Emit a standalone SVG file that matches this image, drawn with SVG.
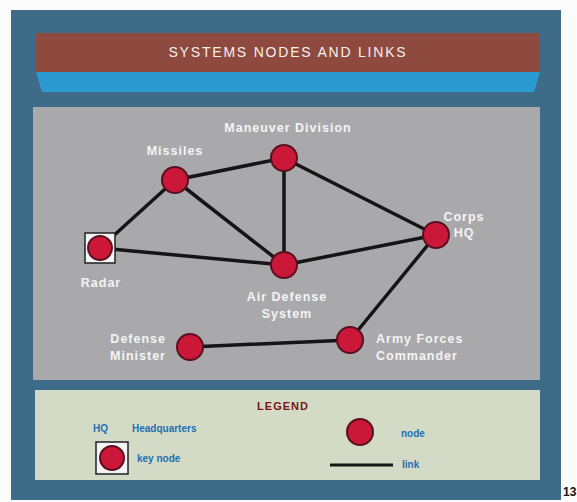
<svg xmlns="http://www.w3.org/2000/svg" width="577" height="502" viewBox="0 0 577 502">
<style>
.lbl{font-family:"Liberation Sans",Arial,sans-serif;font-weight:bold;font-size:12.5px;letter-spacing:1px;fill:#f4f4f4}
.lg{font-family:"Liberation Sans",Arial,sans-serif;font-weight:bold;font-size:10px;fill:#1f6fb2}
.node{fill:#cc1838;stroke:#5a1020;stroke-width:2}
.link{stroke:#151515;stroke-width:3.5;fill:none;stroke-linecap:round}
</style>
<rect x="0" y="0" width="577" height="502" fill="#fbfbfb"/>
<rect x="11" y="10" width="550" height="490" fill="#3e6b87"/>
<rect x="36" y="33" width="504" height="39" fill="#8e4a3e"/>
<text x="288" y="57" text-anchor="middle" font-family="'Liberation Sans',Arial,sans-serif" font-size="14" letter-spacing="1.8" fill="#f6f0ec">SYSTEMS NODES AND LINKS</text>
<polygon points="36,72 540,72 534,92 42,92" fill="#2b9ad0"/>
<rect x="33" y="107" width="507" height="273" fill="#a9a9ac"/>
<rect x="35" y="390" width="505" height="90" fill="#d3dbc6"/>
<g id="connectors">
<line class="link" x1="100" y1="248" x2="175" y2="180"/>
<line class="link" x1="100" y1="248" x2="284" y2="265"/>
<line class="link" x1="175" y1="180" x2="284" y2="158"/>
<line class="link" x1="175" y1="180" x2="284" y2="265"/>
<line class="link" x1="284" y1="158" x2="284" y2="265"/>
<line class="link" x1="284" y1="158" x2="436" y2="235"/>
<line class="link" x1="284" y1="265" x2="436" y2="235"/>
<line class="link" x1="436" y1="235" x2="350" y2="340"/>
<line class="link" x1="190" y1="347" x2="350" y2="340"/>
</g>
<g id="radar">
<rect x="85" y="233" width="30" height="30" fill="#f4f4f4" stroke="#222" stroke-width="1.5"/>
<circle class="node" cx="100" cy="248" r="12"/>
<text class="lbl" x="101" y="287" text-anchor="middle">Radar</text>
</g>
<g id="missiles">
<circle class="node" cx="175" cy="180" r="13"/>
<text class="lbl" x="175" y="155" text-anchor="middle">Missiles</text>
</g>
<g id="maneuver">
<circle class="node" cx="284" cy="158" r="13"/>
<text class="lbl" x="288" y="132" text-anchor="middle">Maneuver Division</text>
</g>
<g id="airdefense">
<circle class="node" cx="284" cy="265" r="13"/>
<text class="lbl" x="287" y="301" text-anchor="middle">Air Defense</text>
<text class="lbl" x="287" y="318" text-anchor="middle">System</text>
</g>
<g id="corps">
<circle class="node" cx="436" cy="235" r="13"/>
<text class="lbl" x="464" y="221" text-anchor="middle">Corps</text>
<text class="lbl" x="464" y="237" text-anchor="middle">HQ</text>
</g>
<g id="defense">
<circle class="node" cx="190" cy="347" r="13"/>
<text class="lbl" x="166" y="343" text-anchor="end">Defense</text>
<text class="lbl" x="166" y="360" text-anchor="end">Minister</text>
</g>
<g id="army">
<circle class="node" cx="350" cy="340" r="13"/>
<text class="lbl" x="376" y="343">Army Forces</text>
<text class="lbl" x="376" y="360">Commander</text>
</g>
<g id="legend">
<text x="283" y="410" text-anchor="middle" font-family="'Liberation Sans',Arial,sans-serif" font-weight="bold" font-size="11" letter-spacing="1" fill="#7a1418">LEGEND</text>
<text class="lg" x="93" y="432">HQ</text>
<text class="lg" x="132" y="432">Headquarters</text>
<rect x="96" y="442" width="32" height="32" fill="#f4f4f4" stroke="#222" stroke-width="1.5"/>
<circle class="node" cx="112" cy="458" r="12"/>
<text class="lg" x="137" y="462">key node</text>
<circle class="node" cx="360" cy="432" r="13"/>
<text class="lg" x="401" y="437">node</text>
<line x1="330" y1="465" x2="393" y2="465" stroke="#151515" stroke-width="3"/>
<text class="lg" x="402" y="468">link</text>
</g>
<text x="563" y="496" font-family="'Liberation Sans',Arial,sans-serif" font-weight="bold" font-size="12" fill="#111">13</text>
</svg>
